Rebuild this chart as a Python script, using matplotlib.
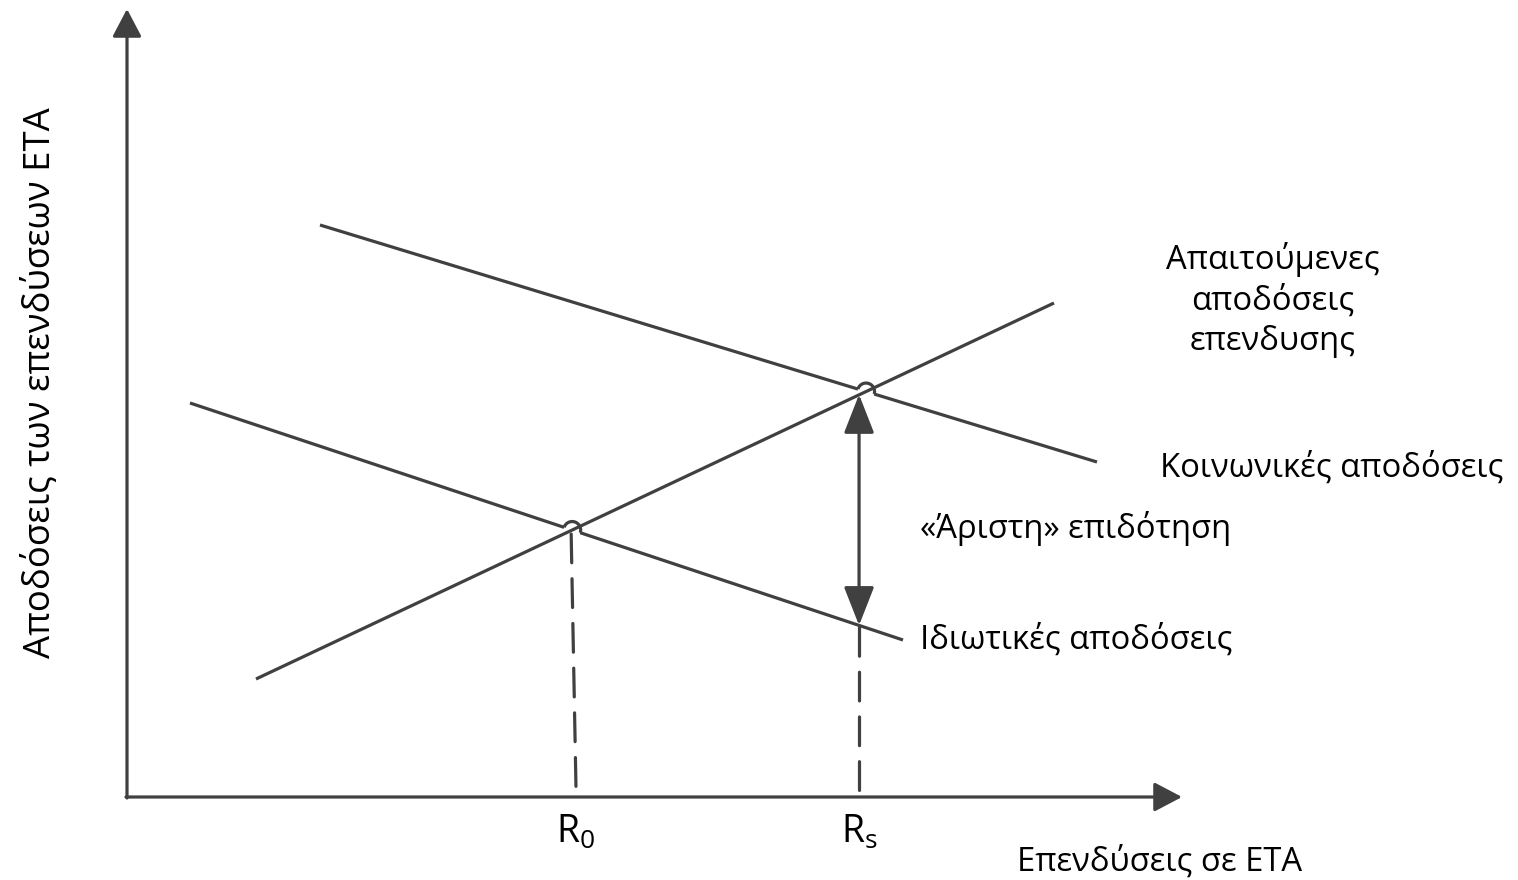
import numpy as np
import matplotlib
matplotlib.use("Agg")
import matplotlib.pyplot as plt

# ---- schematic data (pixel-space end points of each curve) ----
supply_x = [256, 1054]      # Απαιτούμενες αποδόσεις επενδυσης (rising)
supply_y = [679, 303]
social_x = [320, 1097]      # Κοινωνικές αποδόσεις
social_y = [225, 462]
private_x = [190, 903]      # Ιδιωτικές αποδόσεις
private_y = [403, 640]

axis_origin = [127, 797]
axis_x_end = 1182
axis_y_end = 9

x_tick_labels = ["R$_{0}$", "R$_{s}$"]
xlabel = "Επενδύσεις σε ΕΤΑ"
ylabel = "Αποδόσεις των επενδύσεων ΕΤΑ"
supply_label = "Απαιτούμενες\nαποδόσεις\nεπενδυσης"
social_label = "Κοινωνικές αποδόσεις"
private_label = "Ιδιωτικές αποδόσεις"
subsidy_label = "«Άριστη» επιδότηση"

COL = "#404040"
LW = 2.3
FONT = ["Open Sans", "DejaVu Sans"]
FS = 23.6

plt.rcParams["font.family"] = FONT
plt.rcParams["mathtext.fontset"] = "custom"
plt.rcParams["mathtext.rm"] = "Open Sans"
plt.rcParams["mathtext.it"] = "Open Sans"
plt.rcParams["mathtext.bf"] = "Open Sans"
plt.rcParams["mathtext.default"] = "regular"

W, H = 1518, 880
fig = plt.figure(figsize=(W / 100, H / 100), dpi=100)
ax = fig.add_axes([0, 0, 1, 1])
ax.set_xlim(0, W)
ax.set_ylim(H, 0)
ax.set_aspect("equal")
ax.axis("off")


def line_fn(xs, ys):
    m = (ys[1] - ys[0]) / (xs[1] - xs[0])
    return m, ys[0] - m * xs[0]


def intersect(a, b):
    m1, c1 = line_fn(*a)
    m2, c2 = line_fn(*b)
    x = (c2 - c1) / (m1 - m2)
    return x, m1 * x + c1


supply = (supply_x, supply_y)
social = (social_x, social_y)
private = (private_x, private_y)

# rising line
ax.plot(supply_x, supply_y, color=COL, lw=LW, solid_capstyle="butt", zorder=3)


def hop_line(xs, ys, cross, r=8.5):
    """Draw a falling line with a small semicircular hop over the crossing."""
    p0 = np.array([xs[0], ys[0]], float)
    p1 = np.array([xs[1], ys[1]], float)
    d = (p1 - p0) / np.linalg.norm(p1 - p0)
    c = np.array(cross)
    a = c - d * r
    b = c + d * r
    ax.plot([p0[0], a[0]], [p0[1], a[1]], color=COL, lw=LW, solid_capstyle="butt", zorder=3)
    ax.plot([b[0], p1[0]], [b[1], p1[1]], color=COL, lw=LW, solid_capstyle="butt", zorder=3)
    ang = np.arctan2(d[1], d[0])
    t = np.linspace(np.pi, 2 * np.pi, 40)
    local = np.stack([np.cos(t), np.sin(t)], axis=1) * r
    rot = np.array([[np.cos(ang), -np.sin(ang)], [np.sin(ang), np.cos(ang)]])
    pts = local @ rot.T + c
    ax.plot(pts[:, 0], pts[:, 1], color=COL, lw=LW, solid_capstyle="butt", zorder=3)


r0 = intersect(supply, private)
rs = intersect(supply, social)
hop_line(social_x, social_y, rs)
hop_line(private_x, private_y, r0)

# axes with arrows
ox, oy = axis_origin
axis_arrow = dict(arrowstyle="-|>,head_length=0.95,head_width=0.5",
                  color=COL, lw=LW, mutation_scale=18, shrinkA=0, shrinkB=0)
ax.annotate("", xy=(axis_x_end, oy), xytext=(ox - 1, oy), arrowprops=axis_arrow)
ax.annotate("", xy=(ox, axis_y_end), xytext=(ox, oy + 1), arrowprops=axis_arrow)

# dashed drop lines
mp, cp = line_fn(*private)
rs_x = rs[0] - 7
priv_at_rs = mp * rs_x + cp
ax.plot([r0[0] - 1, r0[0] + 4], [r0[1] + 4, oy], color=COL, lw=LW,
        dashes=(9, 5), dash_capstyle="round", zorder=2)
ax.plot([rs_x, rs_x], [priv_at_rs + 2, oy], color=COL, lw=LW,
        dashes=(9, 5), dash_capstyle="round", zorder=2)

# double arrow (subsidy)
ax.annotate("", xy=(rs_x, rs[1] + 3), xytext=(rs_x, priv_at_rs),
            arrowprops=dict(arrowstyle="<|-|>,head_length=1.2,head_width=0.47",
                            color=COL, lw=LW, mutation_scale=20,
                            shrinkA=0, shrinkB=0), zorder=4)

# texts
ax.text(r0[0] + 3, 833, x_tick_labels[0], fontsize=27, ha="center", va="center", color="black")
ax.text(rs_x, 833, x_tick_labels[1], fontsize=27, ha="center", va="center", color="black")
ax.text(1160, 862, xlabel, fontsize=FS, ha="center", va="center", color="black")
ax.text(40, 383, ylabel, fontsize=26.3, ha="center", va="center", rotation=90, color="black")
ax.text(1273, 300, supply_label, fontsize=FS, ha="center", va="center",
        linespacing=1.3, color="black")
ax.text(1160, 468, social_label, fontsize=FS, ha="left", va="center", color="black")
ax.text(920, 528, subsidy_label, fontsize=FS, ha="left", va="center", color="black")
ax.text(920, 640, private_label, fontsize=FS, ha="left", va="center", color="black")

fig.savefig("out.png", dpi=100)
